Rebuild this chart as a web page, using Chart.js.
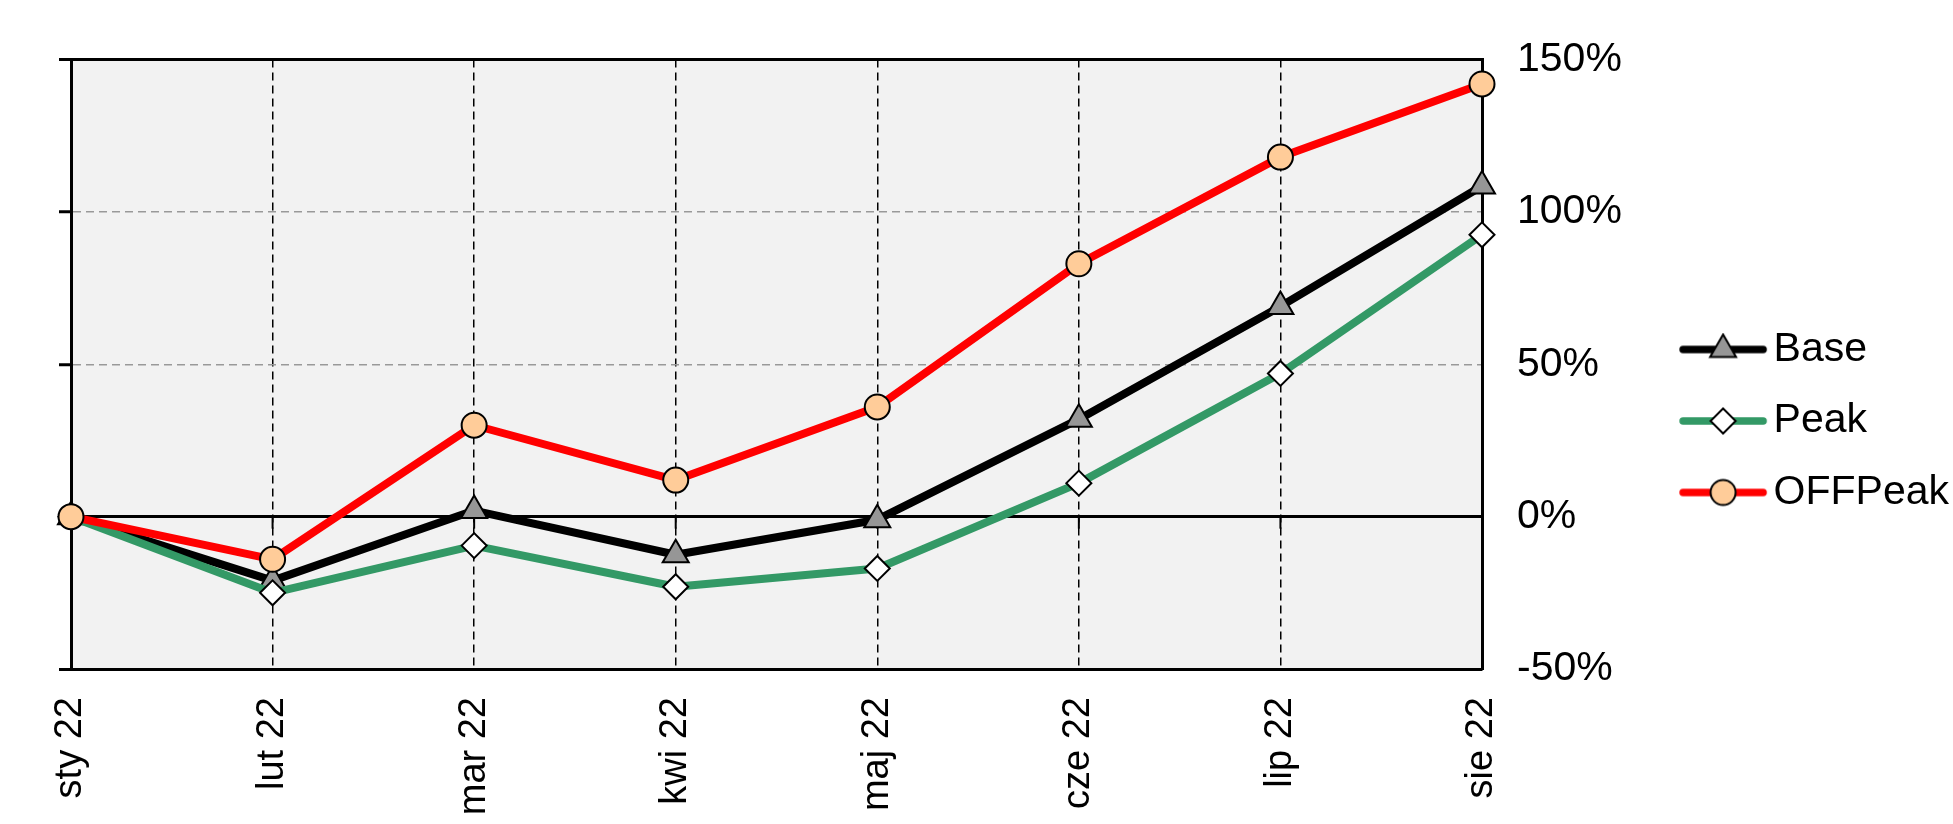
<!DOCTYPE html>
<html><head><meta charset="utf-8">
<script src="https://cdn.jsdelivr.net/npm/chart.js@4/dist/chart.umd.min.js"></script>
<style>html,body{margin:0;padding:0;background:#fff;}canvas{display:block}</style>
</head><body>
<canvas id="c" width="1953" height="824"></canvas>
<script>
const categories = ['sty 22','lut 22','mar 22','kwi 22','maj 22','cze 22','lip 22','sie 22'];
const baseValues = [0, -21, 2, -12.5, -1, 32, 69, 108.5];
const peakValues = [0, -25, -9.5, -23, -17, 11, 47, 92.5];
const offPeakValues = [0, -14, 30, 12, 36, 83, 118, 142];
const yTicks = [-50, 0, 50, 100, 150];
const seriesNames = ['Base', 'Peak', 'OFFPeak'];

const FONT = 'Liberation Sans, Arial, sans-serif';

function makeIcon(lineColor, shape, fill) {
  const cv = document.createElement('canvas');
  cv.width = 90; cv.height = 34;
  const c = cv.getContext('2d');
  const cx = 45, cy = 17;
  c.strokeStyle = lineColor; c.lineWidth = 7.5; c.lineCap = 'round';
  c.beginPath(); c.moveTo(5, cy); c.lineTo(85, cy); c.stroke();
  c.fillStyle = fill; c.strokeStyle = '#000'; c.lineWidth = 2;
  c.beginPath();
  if (shape === 'triangle') {
    const r = 15;
    c.moveTo(cx, cy - r);
    c.lineTo(cx + r * Math.sin(2 * Math.PI / 3), cy + r / 2);
    c.lineTo(cx - r * Math.sin(2 * Math.PI / 3), cy + r / 2);
    c.closePath();
  } else if (shape === 'diamond') {
    const r = 12.5;
    c.moveTo(cx, cy - r); c.lineTo(cx + r, cy); c.lineTo(cx, cy + r); c.lineTo(cx - r, cy); c.closePath();
  } else {
    c.arc(cx, cy, 12.5, 0, Math.PI * 2);
  }
  c.fill(); c.stroke();
  return cv;
}
const icons = [
  makeIcon('#000000', 'triangle', '#969696'),
  makeIcon('#339966', 'diamond', '#ffffff'),
  makeIcon('#ff0000', 'circle', '#ffcc99')
];

const bgPlugin = {
  id: 'bg',
  beforeDraw(chart) {
    const {ctx, chartArea: a} = chart;
    ctx.save();
    ctx.fillStyle = '#f2f2f2';
    ctx.fillRect(a.left, a.top, a.right - a.left, a.bottom - a.top);
    ctx.restore();
  }
};
const zeroTicks = {
  id: 'zeroTicks',
  beforeDatasetsDraw(chart) {
    const {ctx, scales} = chart;
    const y0 = scales.y.getPixelForValue(0);
    ctx.save();
    ctx.strokeStyle = '#000'; ctx.lineWidth = 2;
    categories.forEach((c, i) => {
      const x = scales.x.getPixelForValue(i);
      ctx.beginPath(); ctx.moveTo(x, y0); ctx.lineTo(x, y0 + 12); ctx.stroke();
    });
    ctx.restore();
  }
};
const legendShift = {
  id: 'legendShift',
  afterLayout(chart) {
    const lg = chart.legend;
    if (!lg) return;
    lg.bottom -= 39;
    lg.left += 10; lg.right += 10;
  }
};

const solidVals = v => v === 0 || v === 150 || v === -50;

new Chart(document.getElementById('c'), {
  type: 'line',
  data: {
    labels: categories,
    datasets: [
      { label: seriesNames[0], data: baseValues, borderColor: '#000', borderWidth: 8, pointStyle: 'triangle', pointRadius: 15, pointBackgroundColor: '#969696', pointBorderColor: '#000', pointBorderWidth: 2, order: 3, clip: false, tension: 0, borderJoinStyle: 'round', yAxisID: 'y' },
      { label: seriesNames[1], data: peakValues, borderColor: '#339966', borderWidth: 8, pointStyle: 'rectRot', pointRadius: 12.5, pointBackgroundColor: '#fff', pointBorderColor: '#000', pointBorderWidth: 2, order: 2, clip: false, tension: 0, borderJoinStyle: 'round', yAxisID: 'y' },
      { label: seriesNames[2], data: offPeakValues, borderColor: '#ff0000', borderWidth: 8, pointStyle: 'circle', pointRadius: 12.5, pointBackgroundColor: '#ffcc99', pointBorderColor: '#000', pointBorderWidth: 2, order: 1, clip: false, tension: 0, borderJoinStyle: 'round', yAxisID: 'y' }
    ]
  },
  options: {
    responsive: false,
    animation: false,
    devicePixelRatio: 1,
    layout: { padding: { top: 57, left: 0, right: 4, bottom: 0 } },
    plugins: {
      tooltip: { enabled: false },
      legend: {
        position: 'right', align: 'center',
        labels: {
          usePointStyle: true, pointStyleWidth: 60, padding: 30.5,
          font: { family: FONT, size: 41 }, color: '#000',
          generateLabels: () => seriesNames.map((n, i) => ({
            text: n, pointStyle: icons[i], fillStyle: 'rgba(0,0,0,0)', strokeStyle: 'rgba(0,0,0,0)',
            lineWidth: 0, hidden: false, datasetIndex: i, fontColor: '#000'
          }))
        }
      }
    },
    scales: {
      x: {
        type: 'category', offset: false,
        grid: { color: '#000', lineWidth: 1.5, drawTicks: false },
        border: { color: '#000', width: 3, dash: [8, 5] },
        ticks: { autoSkip: false, minRotation: 90, maxRotation: 90, padding: 28, color: '#000', font: { family: FONT, size: 38 } },
        afterFit(s) { s.height = 155; }
      },
      y: {
        position: 'left', min: -50, max: 150,
        afterBuildTicks(s) { s.ticks = yTicks.map(v => ({ value: v })); },
        ticks: { display: false },
        grid: {
          color: c => (c.tick && solidVals(c.tick.value)) ? '#000' : '#999',
          lineWidth: c => (c.tick && solidVals(c.tick.value)) ? 3 : 1.5,
          drawTicks: true, tickLength: 12, tickColor: '#000', tickWidth: 3
        },
        border: { color: '#000', width: 3, dash: c => (c.tick && solidVals(c.tick.value)) ? [] : [8, 5] },
        afterFit(s) { s.width = 71; }
      },
      y2: {
        position: 'right', min: -50, max: 150,
        afterBuildTicks(s) { s.ticks = yTicks.map(v => ({ value: v })); },
        ticks: { padding: 35, color: '#000', font: { family: FONT, size: 41 }, callback: v => v + '%' },
        grid: { display: false, drawTicks: false },
        border: { display: true, color: '#000', width: 3 },
        afterFit(s) { const lw = s.chart.legend ? s.chart.legend.width : 285; s.width = (1953 - 4 - lw) - 1482; }
      }
    }
  },
  plugins: [bgPlugin, zeroTicks, legendShift]
});
</script>
</body></html>
